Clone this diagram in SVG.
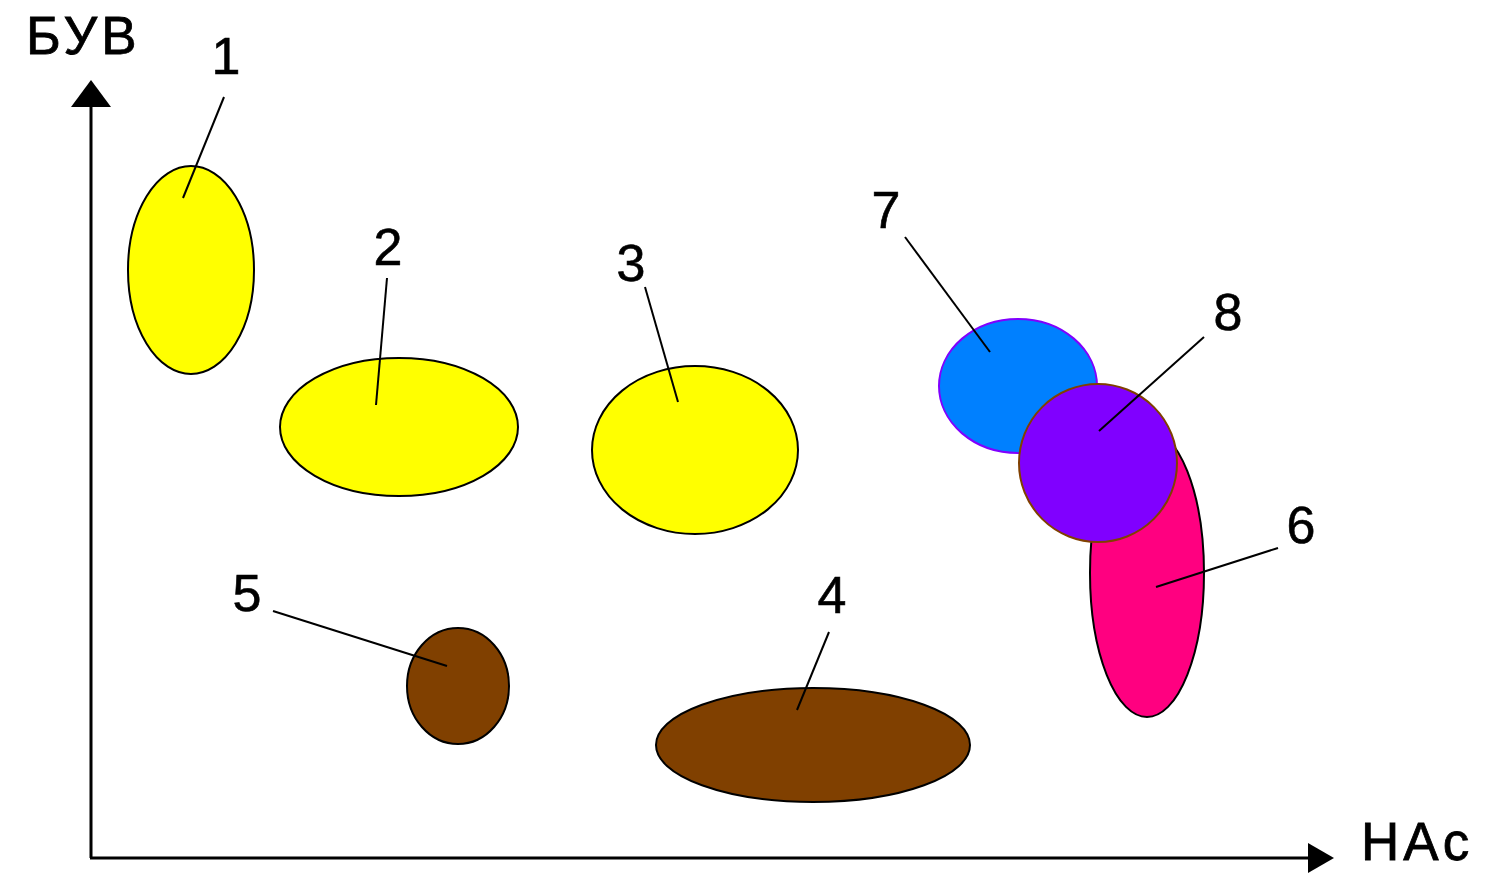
<svg xmlns="http://www.w3.org/2000/svg" width="1486" height="880" viewBox="0 0 1486 880">
<style>
  text { font-family: "Liberation Sans", Arial, sans-serif; fill: #000; }
  .num { font-size: 52px; text-anchor: middle; stroke: #000; stroke-width: 0.6; }
  .ax { font-size: 53px; letter-spacing: 4px; stroke: #000; stroke-width: 0.8; }
  .lead { stroke: #000; stroke-width: 2; fill: none; }
  .axis { stroke: #000; stroke-width: 3; fill: none; }
  .yel { fill: #FFFF00; stroke: #000; stroke-width: 2; }
  .brn { fill: #804000; stroke: #000; stroke-width: 2; }
</style>
<rect width="1486" height="880" fill="#fff"/>
<g id="axes">
  <line class="axis" x1="91" y1="104" x2="91" y2="858"/>
  <line class="axis" x1="90" y1="858" x2="1310" y2="858"/>
  <polygon points="91,80 71,107 111,107" fill="#000"/>
  <polygon points="1334,858 1308,843 1308,873" fill="#000"/>
  <text class="ax" x="26" y="54">БУВ</text>
  <text class="ax" x="1361" y="860">HAc</text>
</g>
<g id="node1"><ellipse class="yel" cx="191" cy="270" rx="63" ry="104"/><text class="num" x="226" y="74">1</text></g>
<g id="node2"><ellipse class="yel" cx="399" cy="427" rx="119" ry="69"/><text class="num" x="388" y="265">2</text></g>
<g id="node3"><ellipse class="yel" cx="695" cy="450" rx="103" ry="84"/><text class="num" x="631" y="281">3</text></g>
<g id="node4"><ellipse class="brn" cx="813" cy="745" rx="157" ry="57"/><text class="num" x="832" y="613">4</text></g>
<g id="node5"><ellipse class="brn" cx="458" cy="686" rx="51" ry="58"/><text class="num" x="247" y="611">5</text></g>
<g id="node6"><ellipse fill="#FF0080" stroke="#000" stroke-width="2" cx="1147" cy="573" rx="57" ry="144"/><text class="num" x="1301" y="543">6</text></g>
<g id="node7"><ellipse fill="#0080FF" stroke="#8000FF" stroke-width="2" cx="1018" cy="386" rx="79" ry="67"/><text class="num" x="886" y="228">7</text></g>
<g id="node8"><ellipse fill="#8000FF" stroke="#804000" stroke-width="2" cx="1098" cy="463" rx="79" ry="79"/><text class="num" x="1228" y="330">8</text></g>
<g id="connectors">
  <line class="lead" x1="224" y1="97" x2="183" y2="198"/>
  <line class="lead" x1="387" y1="278" x2="376" y2="405"/>
  <line class="lead" x1="645" y1="287" x2="678" y2="402"/>
  <line class="lead" x1="829" y1="632" x2="797" y2="710"/>
  <line class="lead" x1="273" y1="611" x2="447" y2="666"/>
  <line class="lead" x1="1278" y1="548" x2="1156" y2="587"/>
  <line class="lead" x1="905" y1="237" x2="990" y2="352"/>
  <line class="lead" x1="1204" y1="337" x2="1099" y2="431"/>
</g>
</svg>
